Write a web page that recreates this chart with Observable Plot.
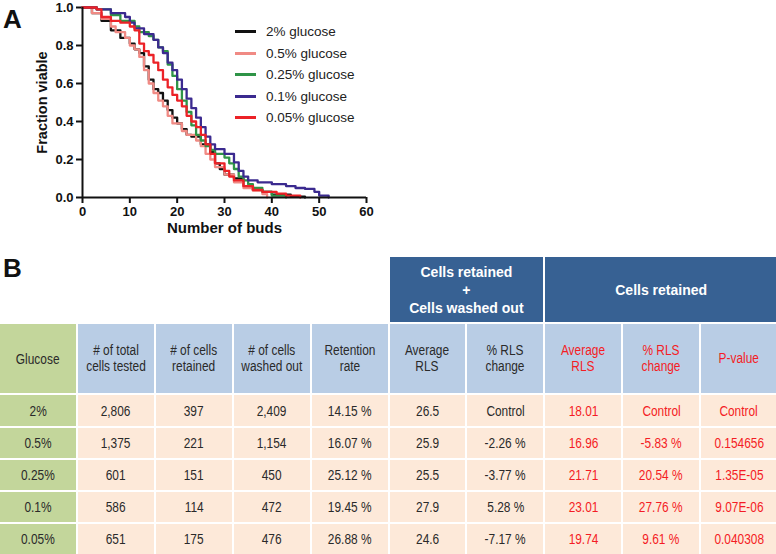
<!DOCTYPE html>
<html>
<head>
<meta charset="utf-8">
<script src="https://cdn.jsdelivr.net/npm/d3@7"></script>
<script src="https://cdn.jsdelivr.net/npm/@observablehq/plot@0.6"></script>
<style>
  html, body { margin: 0; padding: 0; background: #fff; }
  #fig { position: relative; width: 776px; height: 554px; overflow: hidden; font-family: "Liberation Sans", Arial, sans-serif; }
  .panel { position: absolute; font-weight: bold; font-size: 26px; color: #111; line-height: 1; }
  #chart { position: absolute; left: 0; top: 0; }
  #legend { position: absolute; left: 235px; top: 21px; font-size: 13.5px; color: #222; }
  #legend .row { height: 21.5px; display: flex; align-items: center; }
  #legend .sw { width: 21px; height: 3px; margin-right: 10px; }
  #table { position: absolute; left: 0; top: 257px; width: 777px; display: grid;
           grid-template-columns: repeat(10, 1fr); column-gap: 2px; row-gap: 2px;
           grid-template-rows: 65px 69px 31px 30px 30px 30px 30px; }
  #table > div { display: flex; align-items: center; justify-content: center; text-align: center; }
  #table > div > span { display: inline-block; transform: scaleX(0.85); white-space: nowrap; }
  #table .dark { background: #376193; color: #fff; font-weight: bold; font-size: 14px; line-height: 18px; }
  #table .dark > span { transform: none; }
  #table .hd { background: #b9cde5; color: #2a2a2a; font-size: 14px; line-height: 15.5px; }
  #table .gl { background: #c3d69b; color: #2a2a2a; font-size: 14px; }
  #table .cell { background: #fde9d9; color: #2a2a2a; font-size: 14px; }
  #table .red { color: #f41c24; }
</style>
</head>
<body>
<div id="fig">
  <div id="chart"></div>
  <div class="panel" style="left:3px;top:6px;">A</div>
  <div id="legend"></div>
  <div class="panel" style="left:3px;top:255px;">B</div>
  <div id="table"></div>
</div>
<script>
// ---------- Panel A data ----------
const seriesNames = ["2% glucose", "0.5% glucose", "0.25% glucose", "0.1% glucose", "0.05% glucose"];
const seriesColors = ["#111111", "#f08a84", "#2f9447", "#3b2a8f", "#ec2227"];

const budsBlack   = [0, 2, 4, 6, 8, 10, 11, 12, 13, 14, 15, 16, 17, 18, 19, 20, 21, 22, 23, 25, 27, 28, 29, 30, 32, 34, 36, 38, 40, 44, 47];
const viableBlack = [1.0, 0.97, 0.93, 0.88, 0.84, 0.81, 0.78, 0.76, 0.69, 0.62, 0.57, 0.55, 0.51, 0.46, 0.42, 0.39, 0.36, 0.33, 0.32, 0.28, 0.24, 0.18, 0.15, 0.12, 0.10, 0.06, 0.04, 0.03, 0.015, 0.005, 0];

const budsPink   = [0, 2, 4, 6, 7, 9, 10, 11, 12, 13, 14, 15, 16, 17, 18, 19, 21, 22, 24, 25, 26, 27, 28, 30, 32, 34, 36, 38, 39];
const viablePink = [1.0, 0.97, 0.94, 0.90, 0.87, 0.84, 0.80, 0.78, 0.74, 0.67, 0.60, 0.55, 0.51, 0.48, 0.43, 0.39, 0.35, 0.33, 0.30, 0.27, 0.23, 0.20, 0.16, 0.12, 0.08, 0.05, 0.035, 0.018, 0];

const budsGreen   = [0, 3, 6, 8, 11, 12, 14, 15, 16, 17, 18, 19, 20, 21, 22, 23, 24, 25, 26, 27, 28, 30, 31, 32, 33, 34, 35, 36, 38, 40, 43];
const viableGreen = [1.0, 0.99, 0.96, 0.93, 0.90, 0.87, 0.85, 0.83, 0.79, 0.77, 0.70, 0.64, 0.57, 0.51, 0.45, 0.38, 0.33, 0.30, 0.27, 0.25, 0.23, 0.21, 0.18, 0.15, 0.11, 0.09, 0.07, 0.05, 0.03, 0.01, 0];

const budsPurple   = [0, 3, 6, 9, 10, 11, 13, 15, 16, 17, 18, 19, 20, 21, 22, 23, 24, 25, 26, 27, 28, 30, 32, 33, 34, 35, 37, 40, 43, 45, 47, 49, 50, 52];
const viablePurple = [1.0, 0.99, 0.97, 0.95, 0.92, 0.89, 0.86, 0.83, 0.79, 0.76, 0.71, 0.67, 0.62, 0.57, 0.52, 0.47, 0.42, 0.37, 0.32, 0.28, 0.255, 0.23, 0.185, 0.14, 0.11, 0.09, 0.08, 0.07, 0.06, 0.05, 0.045, 0.03, 0.01, 0];

const budsRed   = [0, 2, 3, 4, 6, 8, 10, 11, 12, 13, 14, 15, 16, 17, 18, 19, 20, 21, 22, 23, 24, 25, 26, 27, 28, 30, 31, 32, 34, 36, 38, 41, 43, 46];
const viableRed = [1.0, 1.0, 0.99, 0.95, 0.93, 0.92, 0.90, 0.88, 0.81, 0.77, 0.75, 0.71, 0.67, 0.62, 0.58, 0.54, 0.51, 0.48, 0.43, 0.40, 0.37, 0.33, 0.28, 0.23, 0.18, 0.14, 0.11, 0.09, 0.06, 0.04, 0.03, 0.02, 0.01, 0];

const xTicks = [0, 10, 20, 30, 40, 50, 60];
const yTicks = [0, 0.2, 0.4, 0.6, 0.8, 1.0];

// ---------- Panel B data ----------
const glucoseLevels = ["2%", "0.5%", "0.25%", "0.1%", "0.05%"];
const totalTested   = ["2,806", "1,375", "601", "586", "651"];
const cellsRetained = ["397", "221", "151", "114", "175"];
const washedOut     = ["2,409", "1,154", "450", "472", "476"];
const retentionRate = ["14.15 %", "16.07 %", "25.12 %", "19.45 %", "26.88 %"];
const avgRlsAll     = ["26.5", "25.9", "25.5", "27.9", "24.6"];
const rlsChangeAll  = ["Control", "-2.26 %", "-3.77 %", "5.28 %", "-7.17 %"];
const avgRlsRet     = ["18.01", "16.96", "21.71", "23.01", "19.74"];
const rlsChangeRet  = ["Control", "-5.83 %", "20.54 %", "27.76 %", "9.61 %"];
const pValues       = ["Control", "0.154656", "1.35E-05", "9.07E-06", "0.040308"];

const groupHeaders = ["Cells retained<br>+<br>Cells washed out", "Cells retained"];
const columnHeaders = ["Glucose", "# of total<br>cells tested", "# of cells<br>retained", "# of cells<br>washed out",
  "Retention<br>rate", "Average<br>RLS", "% RLS<br>change", "Average<br>RLS", "% RLS<br>change", "P-value"];

// ---------- Build chart ----------
const seriesData = [
  [budsBlack, viableBlack], [budsPink, viablePink], [budsGreen, viableGreen],
  [budsPurple, viablePurple], [budsRed, viableRed]
];
const rows = [];
seriesData.forEach(([xs, ys], i) => {
  xs.forEach((x, j) => rows.push({series: seriesNames[i], buds: x, viable: ys[j]}));
});

const chart = Plot.plot({
  width: 390,
  height: 245,
  marginLeft: 82,
  marginRight: 24,
  marginTop: 7,
  marginBottom: 48,
  style: {fontFamily: "Liberation Sans, Arial, sans-serif", fontSize: "13px", fontWeight: "bold", color: "#111", background: "transparent", overflow: "visible"},
  x: {domain: [0, 60]},
  y: {domain: [0, 1]},
  color: {domain: seriesNames, range: seriesColors},
  marks: [
    Plot.axisX({ticks: xTicks, tickSize: 6, tickPadding: 3, strokeWidth: 2, label: null, fontWeight: "bold", fontSize: 13}),
    Plot.axisY({ticks: yTicks, tickSize: 6, tickPadding: 3, strokeWidth: 2, label: null, tickFormat: d3.format(".1f"), fontWeight: "bold", fontSize: 13}),
    Plot.line(rows, {x: "buds", y: "viable", z: "series", stroke: "series", curve: "step-after", strokeWidth: 2.3}),
    Plot.ruleY([0], {stroke: "#111", strokeWidth: 2}),
    Plot.ruleX([0], {stroke: "#111", strokeWidth: 2}),
    Plot.text(["Number of buds"], {frameAnchor: "bottom", textAnchor: "middle", dy: 35, fontSize: 15, fontWeight: "bold", fill: "#111"}),
    Plot.text(["Fraction viable"], {frameAnchor: "left", textAnchor: "middle", dx: -40, rotate: -90, fontSize: 14.5, fontWeight: "bold", fill: "#111"})
  ]
});
document.getElementById("chart").appendChild(chart);

// legend
const legend = document.getElementById("legend");
seriesNames.forEach((name, i) => {
  const r = document.createElement("div");
  r.className = "row";
  r.innerHTML = `<span class="sw" style="background:${seriesColors[i]}"></span><span>${name}</span>`;
  legend.appendChild(r);
});

// ---------- Build table ----------
const table = document.getElementById("table");
function addCell(cls, html, span) {
  const d = document.createElement("div");
  d.className = cls;
  if (html) d.innerHTML = `<span>${html}</span>`;
  if (span) d.style.gridColumn = `span ${span}`;
  table.appendChild(d);
}
addCell("", "", 5);
addCell("dark", groupHeaders[0], 2);
addCell("dark", groupHeaders[1], 3);
columnHeaders.forEach((h, i) => addCell(i === 0 ? "gl" : (i >= 7 ? "hd red" : "hd"), h));
glucoseLevels.forEach((g, r) => {
  addCell("gl", g);
  [totalTested, cellsRetained, washedOut, retentionRate, avgRlsAll, rlsChangeAll].forEach(a => addCell("cell", a[r]));
  [avgRlsRet, rlsChangeRet, pValues].forEach(a => addCell("cell red", a[r]));
});
</script>
</body>
</html>
